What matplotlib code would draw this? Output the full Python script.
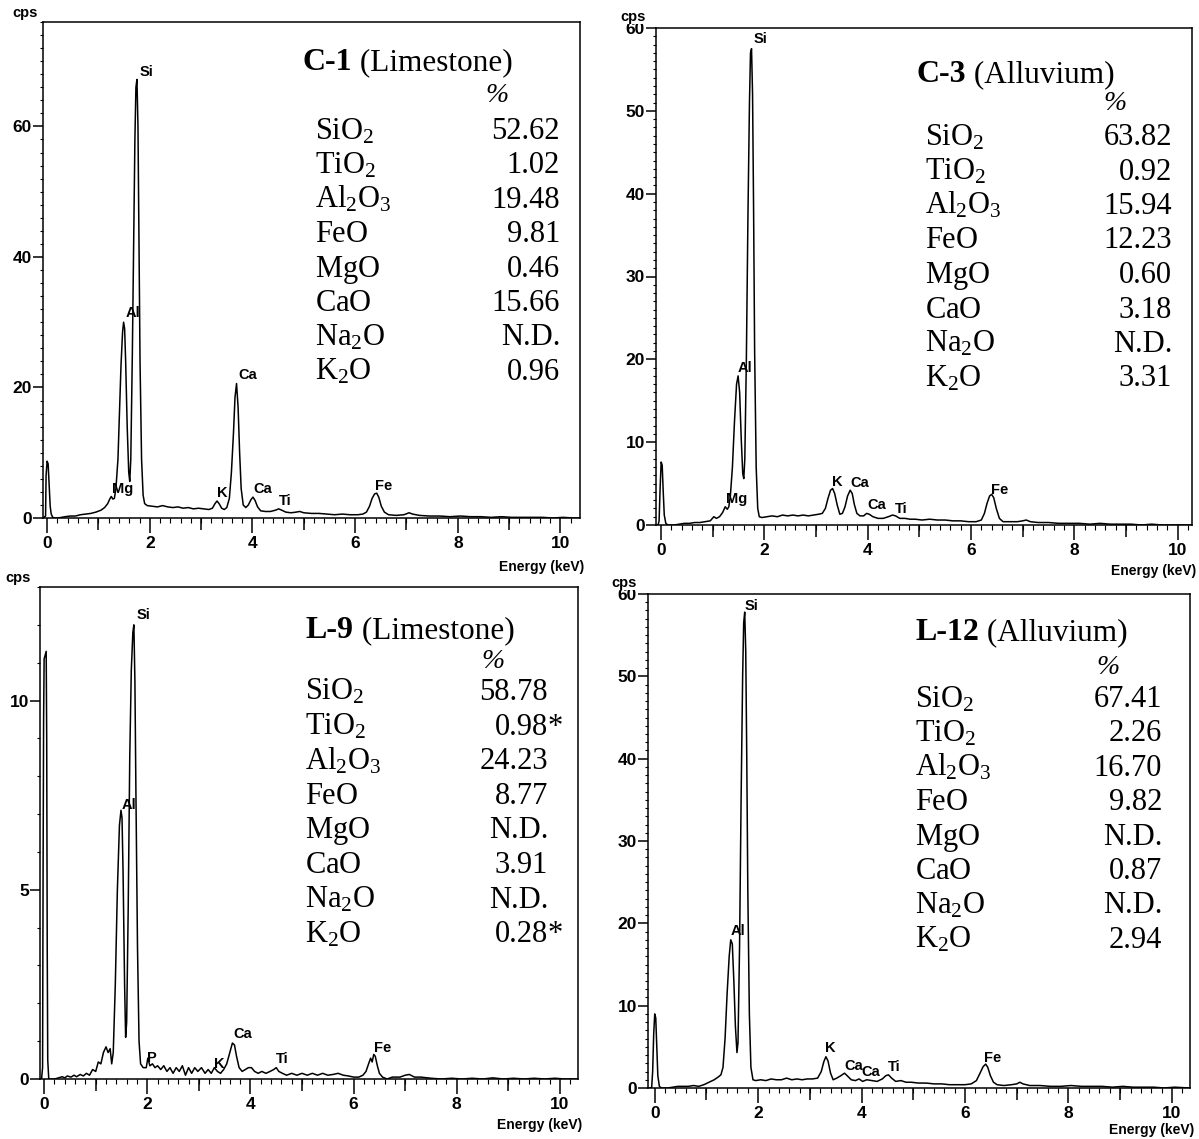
import matplotlib
matplotlib.use("Agg")
import matplotlib.pyplot as plt
from matplotlib.ticker import MultipleLocator, FixedLocator

plt.rcParams["font.family"] = "Liberation Sans"
plt.rcParams["mathtext.fontset"] = "custom"
plt.rcParams["mathtext.rm"] = "Liberation Serif"
plt.rcParams["mathtext.it"] = "Liberation Serif:italic"

W, H = 1199, 1139

# EDS spectra, (energy keV, cps)
c1_spectrum = [
    (-0.08, 0.0), (-0.03, 0.3), (-0.02, 6.5), (0.00, 8.7), (0.02, 8.3), (0.04, 5.0), (0.06, 1.8),
    (0.08, 0.6), (0.11, 0.1), (0.15, 0.0), (0.25, 0.05), (0.35, 0.2), (0.45, 0.3), (0.55, 0.3),
    (0.65, 0.5), (0.75, 0.6), (0.85, 0.7), (0.95, 0.9), (1.05, 1.2), (1.12, 1.6), (1.18, 2.2),
    (1.22, 2.9), (1.25, 3.3), (1.28, 2.9), (1.31, 3.0), (1.34, 4.5), (1.38, 9.0), (1.41, 16.0),
    (1.44, 23.5), (1.47, 28.5), (1.49, 30.0), (1.51, 29.0), (1.53, 24.0), (1.56, 14.0), (1.59, 7.0),
    (1.61, 5.6), (1.63, 9.0), (1.66, 25.0), (1.69, 45.0), (1.71, 58.0), (1.73, 66.0), (1.75, 67.2),
    (1.77, 60.0), (1.79, 42.0), (1.81, 24.0), (1.84, 9.0), (1.87, 3.5), (1.90, 2.2), (1.95, 1.9),
    (2.05, 1.8), (2.15, 1.7), (2.25, 1.9), (2.35, 1.7), (2.45, 1.6), (2.55, 1.7), (2.65, 1.5),
    (2.75, 1.6), (2.85, 1.4), (2.95, 1.5), (3.05, 1.4), (3.15, 1.3), (3.22, 1.5), (3.27, 2.2),
    (3.31, 2.6), (3.35, 2.2), (3.40, 1.5), (3.45, 1.3), (3.50, 1.6), (3.55, 3.0), (3.59, 7.0),
    (3.63, 13.0), (3.66, 18.5), (3.69, 20.6), (3.72, 17.0), (3.75, 10.0), (3.78, 4.5), (3.82, 2.0),
    (3.87, 1.6), (3.92, 2.0), (3.97, 2.8), (4.01, 3.2), (4.05, 2.7), (4.10, 1.7), (4.16, 1.1),
    (4.25, 1.0), (4.35, 1.0), (4.45, 1.2), (4.51, 1.4), (4.57, 1.2), (4.65, 0.9), (4.75, 0.8),
    (4.85, 0.9), (4.92, 1.0), (5.00, 0.8), (5.15, 0.7), (5.30, 0.7), (5.45, 0.6), (5.60, 0.5),
    (5.75, 0.6), (5.90, 0.5), (6.05, 0.5), (6.15, 0.6), (6.22, 0.9), (6.28, 1.8), (6.33, 3.0),
    (6.38, 3.7), (6.42, 3.8), (6.46, 3.2), (6.51, 1.8), (6.57, 0.9), (6.65, 0.5), (6.80, 0.4),
    (6.95, 0.5), (7.05, 0.8), (7.12, 0.6), (7.25, 0.4), (7.45, 0.3), (7.65, 0.3), (7.85, 0.2),
    (8.05, 0.3), (8.25, 0.2), (8.45, 0.2), (8.65, 0.1), (8.85, 0.2), (9.05, 0.1), (9.25, 0.1),
    (9.45, 0.1), (9.65, 0.1), (9.85, 0.0), (10.05, 0.1), (10.25, 0.0), (10.38, 0.0),
]

c3_spectrum = [
    (-0.10, 0.0), (-0.06, 0.0), (-0.04, 0.5), (-0.02, 4.5), (0.00, 7.6), (0.02, 7.2), (0.04, 4.0),
    (0.06, 1.2), (0.09, 0.2), (0.13, 0.0), (0.25, 0.0), (0.35, 0.1), (0.45, 0.2), (0.55, 0.2),
    (0.65, 0.3), (0.75, 0.3), (0.85, 0.4), (0.95, 0.5), (1.02, 1.0), (1.07, 0.8), (1.13, 1.0),
    (1.19, 1.5), (1.24, 2.2), (1.28, 1.9), (1.31, 2.2), (1.34, 3.5), (1.38, 7.0), (1.42, 12.5),
    (1.46, 17.0), (1.49, 18.0), (1.52, 16.0), (1.55, 10.5), (1.58, 6.2), (1.60, 5.6), (1.62, 8.0),
    (1.65, 20.0), (1.68, 37.0), (1.71, 51.0), (1.73, 57.0), (1.75, 57.5), (1.77, 52.0), (1.79, 38.0),
    (1.81, 21.0), (1.84, 7.0), (1.87, 2.0), (1.90, 1.0), (1.95, 0.9), (2.05, 1.0), (2.15, 1.1),
    (2.25, 1.0), (2.35, 1.2), (2.45, 1.1), (2.55, 1.2), (2.65, 1.1), (2.75, 1.2), (2.85, 1.1),
    (2.95, 1.2), (3.05, 1.3), (3.12, 1.4), (3.18, 2.0), (3.23, 3.2), (3.28, 4.2), (3.32, 4.4),
    (3.36, 3.8), (3.41, 2.4), (3.46, 1.3), (3.51, 1.4), (3.56, 2.2), (3.61, 3.5), (3.66, 4.2),
    (3.70, 3.8), (3.74, 2.5), (3.79, 1.4), (3.85, 1.1), (3.92, 1.1), (3.98, 1.4), (4.03, 1.3),
    (4.10, 1.0), (4.20, 0.8), (4.30, 0.8), (4.40, 1.0), (4.48, 1.2), (4.54, 1.1), (4.62, 0.8),
    (4.72, 0.8), (4.82, 0.7), (4.92, 0.7), (5.05, 0.6), (5.20, 0.7), (5.35, 0.6), (5.50, 0.6),
    (5.65, 0.5), (5.80, 0.5), (5.95, 0.4), (6.10, 0.4), (6.20, 0.6), (6.26, 1.4), (6.31, 2.6),
    (6.36, 3.5), (6.40, 3.7), (6.44, 3.3), (6.49, 2.0), (6.55, 0.8), (6.62, 0.4), (6.75, 0.4),
    (6.90, 0.4), (7.00, 0.5), (7.07, 0.6), (7.15, 0.4), (7.30, 0.3), (7.50, 0.3), (7.70, 0.2),
    (7.90, 0.2), (8.10, 0.2), (8.30, 0.1), (8.50, 0.2), (8.70, 0.1), (8.90, 0.1), (9.10, 0.1),
    (9.30, 0.0), (9.50, 0.1), (9.70, 0.0), (9.90, 0.0), (10.10, 0.0), (10.30, 0.0),
]

l9_spectrum = [
    (-0.08, 0.0), (-0.05, 0.0), (-0.03, 0.3), (-0.02, 5.5), (-0.01, 9.5), (0.00, 11.1), (0.02, 11.2),
    (0.04, 11.3), (0.05, 9.0), (0.06, 3.5), (0.07, 0.5), (0.09, 0.0), (0.20, 0.0), (0.28, 0.03),
    (0.35, 0.06), (0.40, 0.03), (0.45, 0.08), (0.52, 0.05), (0.58, 0.1), (0.63, 0.06), (0.70, 0.12),
    (0.76, 0.08), (0.82, 0.15), (0.88, 0.1), (0.94, 0.25), (1.00, 0.2), (1.05, 0.45), (1.10, 0.4),
    (1.15, 0.7), (1.20, 0.85), (1.24, 0.7), (1.28, 0.8), (1.31, 0.4), (1.34, 0.7), (1.38, 2.5),
    (1.42, 5.0), (1.46, 6.7), (1.49, 7.1), (1.51, 6.9), (1.53, 5.5), (1.56, 2.5), (1.58, 1.1),
    (1.60, 1.5), (1.63, 4.5), (1.66, 8.5), (1.69, 10.8), (1.72, 11.8), (1.74, 12.0), (1.76, 10.5),
    (1.78, 7.5), (1.81, 3.5), (1.84, 1.0), (1.87, 0.4), (1.92, 0.3), (1.98, 0.3), (2.01, 0.55),
    (2.05, 0.35), (2.10, 0.4), (2.15, 0.3), (2.20, 0.35), (2.26, 0.25), (2.32, 0.35), (2.38, 0.2),
    (2.44, 0.3), (2.50, 0.15), (2.56, 0.3), (2.62, 0.2), (2.68, 0.35), (2.74, 0.1), (2.80, 0.3),
    (2.86, 0.15), (2.92, 0.3), (2.98, 0.2), (3.05, 0.3), (3.12, 0.15), (3.18, 0.25), (3.24, 0.15),
    (3.30, 0.3), (3.36, 0.2), (3.42, 0.15), (3.48, 0.25), (3.54, 0.4), (3.60, 0.7), (3.65, 0.95),
    (3.69, 0.9), (3.73, 0.6), (3.78, 0.3), (3.84, 0.2), (3.90, 0.25), (3.96, 0.3), (4.02, 0.3),
    (4.08, 0.2), (4.15, 0.15), (4.22, 0.2), (4.30, 0.15), (4.38, 0.2), (4.45, 0.25), (4.50, 0.3),
    (4.55, 0.2), (4.62, 0.15), (4.70, 0.1), (4.80, 0.15), (4.90, 0.1), (5.00, 0.15), (5.10, 0.1),
    (5.20, 0.15), (5.30, 0.1), (5.40, 0.15), (5.50, 0.1), (5.60, 0.12), (5.70, 0.15), (5.80, 0.1),
    (5.90, 0.08), (6.00, 0.05), (6.10, 0.05), (6.18, 0.1), (6.24, 0.2), (6.29, 0.4), (6.33, 0.55),
    (6.36, 0.45), (6.39, 0.65), (6.42, 0.6), (6.46, 0.35), (6.50, 0.15), (6.56, 0.05), (6.65, 0.0),
    (6.75, 0.05), (6.90, 0.05), (7.00, 0.1), (7.08, 0.12), (7.18, 0.05), (7.30, 0.05), (7.50, 0.02),
    (7.70, 0.0), (7.90, 0.02), (8.10, 0.0), (8.30, 0.02), (8.50, 0.0), (8.70, 0.03), (8.90, 0.0),
    (9.10, 0.02), (9.30, 0.0), (9.50, 0.02), (9.70, 0.0), (9.90, 0.02), (10.10, 0.0), (10.35, 0.0),
]

l12_spectrum = [
    (-0.13, 0.0), (-0.06, 0.0), (-0.04, 2.0), (-0.02, 6.5), (0.00, 9.0), (0.02, 8.5), (0.04, 5.0),
    (0.06, 1.5), (0.09, 0.2), (0.13, 0.0), (0.25, 0.0), (0.35, 0.1), (0.45, 0.2), (0.55, 0.2),
    (0.65, 0.2), (0.75, 0.3), (0.85, 0.2), (0.95, 0.4), (1.05, 0.7), (1.15, 1.0), (1.22, 1.3),
    (1.28, 1.6), (1.32, 2.5), (1.36, 6.0), (1.40, 11.5), (1.44, 16.0), (1.47, 18.0), (1.50, 17.5),
    (1.53, 13.0), (1.56, 7.5), (1.59, 4.3), (1.61, 5.5), (1.64, 17.0), (1.67, 35.0), (1.70, 50.0),
    (1.72, 56.5), (1.74, 57.8), (1.76, 53.0), (1.78, 40.0), (1.80, 24.0), (1.83, 9.0), (1.86, 2.5),
    (1.90, 1.0), (1.95, 0.9), (2.05, 1.0), (2.15, 0.9), (2.25, 1.1), (2.35, 1.0), (2.45, 1.0),
    (2.55, 1.2), (2.65, 1.0), (2.75, 1.1), (2.85, 1.0), (2.95, 1.1), (3.05, 1.1), (3.15, 1.2),
    (3.22, 2.0), (3.27, 3.2), (3.31, 3.8), (3.35, 3.3), (3.40, 1.8), (3.45, 1.0), (3.52, 1.2),
    (3.60, 1.5), (3.67, 1.8), (3.72, 1.5), (3.80, 1.0), (3.88, 0.9), (3.95, 1.1), (4.02, 0.8),
    (4.10, 1.0), (4.20, 0.9), (4.30, 0.8), (4.40, 1.1), (4.47, 1.5), (4.52, 1.6), (4.58, 1.2),
    (4.66, 0.8), (4.76, 0.9), (4.86, 0.7), (4.96, 0.7), (5.10, 0.6), (5.25, 0.6), (5.40, 0.5),
    (5.55, 0.5), (5.70, 0.4), (5.85, 0.4), (6.00, 0.4), (6.12, 0.5), (6.22, 0.9), (6.29, 1.8),
    (6.35, 2.6), (6.40, 2.9), (6.44, 2.5), (6.49, 1.5), (6.55, 0.7), (6.62, 0.4), (6.75, 0.3),
    (6.90, 0.4), (7.00, 0.5), (7.06, 0.7), (7.12, 0.5), (7.25, 0.3), (7.45, 0.3), (7.65, 0.2),
    (7.85, 0.2), (8.05, 0.3), (8.25, 0.2), (8.45, 0.2), (8.65, 0.2), (8.85, 0.1), (9.05, 0.2),
    (9.25, 0.1), (9.45, 0.1), (9.65, 0.1), (9.85, 0.0), (10.05, 0.1), (10.35, 0.0),
]

# peak identifications: (element, keV at left of label, cps at label centre)
c1_peaks = [("Si", 1.80, 68.4), ("Al", 1.52, 31.4), ("Mg", 1.27, 4.4), ("K", 3.30, 3.8),
            ("Ca", 3.72, 21.9), ("Ca", 4.02, 4.5), ("Ti", 4.51, 2.6), ("Fe", 6.38, 4.9)]
c3_peaks = [("Si", 1.79, 58.7), ("Al", 1.49, 19.0), ("Mg", 1.25, 3.1), ("K", 3.30, 5.2),
            ("Ca", 3.67, 5.1), ("Ca", 4.00, 2.4), ("Ti", 4.52, 1.9), ("Fe", 6.38, 4.2)]
l9_peaks = [("Si", 1.79, 12.27), ("Al", 1.51, 7.23), ("P", 2.00, 0.55), ("K", 3.30, 0.40),
            ("Ca", 3.67, 1.19), ("Ti", 4.50, 0.53), ("Fe", 6.39, 0.81)]
l12_peaks = [("Si", 1.73, 58.5), ("Al", 1.47, 19.1), ("K", 3.29, 4.8), ("Ca", 3.67, 2.7),
             ("Ca", 4.00, 1.9), ("Ti", 4.50, 2.5), ("Fe", 6.37, 3.7)]

# bulk chemistry (wt %)
oxides = [r"$\mathrm{SiO_2}$", r"$\mathrm{TiO_2}$", r"$\mathrm{Al_2O_3}$", r"$\mathrm{FeO}$",
          r"$\mathrm{MgO}$", r"$\mathrm{CaO}$", r"$\mathrm{Na_2O}$", r"$\mathrm{K_2O}$"]
c1_pct = ["52.62", "1.02", "19.48", "9.81", "0.46", "15.66", "N.D.", "0.96"]
c3_pct = ["63.82", "0.92", "15.94", "12.23", "0.60", "3.18", "N.D.", "3.31"]
l9_pct = ["58.78", "0.98*", "24.23", "8.77", "N.D.", "3.91", "N.D.", "0.28*"]
l12_pct = ["67.41", "2.26", "16.70", "9.82", "N.D.", "0.87", "N.D.", "2.94"]


def fx(x):
    return x / W


def fy(y):
    return 1 - y / H


def spectrum_axes(fig, box, xlim, ymax, ymajor, yminor, spectrum, peaks, energy_y):
    left, top, right, bottom = box
    ax = fig.add_axes([fx(left), fy(bottom), (right - left) / W, (bottom - top) / H])
    kev = [p[0] for p in spectrum]
    cps = [p[1] for p in spectrum]
    ax.plot(kev, cps, color="black", lw=1.1, solid_joinstyle="round")
    ax.set_xlim(xlim)
    ax.set_ylim(0, ymax)

    ax.xaxis.set_major_locator(MultipleLocator(2))
    ax.xaxis.set_minor_locator(MultipleLocator(0.2))
    ax.yaxis.set_major_locator(FixedLocator(ymajor))
    ax.yaxis.set_minor_locator(MultipleLocator(yminor))
    ax.tick_params(axis="x", which="major", direction="out", length=11, width=1.1, pad=2,
                   labelsize=12.5)
    ax.tick_params(axis="x", which="minor", direction="out", length=3.5, width=0.8)
    ax.tick_params(axis="y", which="major", direction="out", length=7, width=1.1, pad=1,
                   labelsize=12.5)
    ax.tick_params(axis="y", which="minor", direction="out", length=2.5, width=0.8)
    for lab in ax.get_xticklabels() + ax.get_yticklabels():
        lab.set_fontweight("bold")
    for sp in ax.spines.values():
        sp.set_linewidth(1.1)

    # odd keV marks are a bit shorter than the labelled ones
    odd = ax.secondary_xaxis("bottom")
    odd.set_xticks([1, 3, 5, 7, 9])
    odd.tick_params(length=8.5, width=1.1, labelbottom=False)
    odd.spines["bottom"].set_visible(False)

    for name, x, y in peaks:
        ax.text(x, y, name, fontsize=10.5, fontweight="bold", ha="left", va="center")

    fig.text(fx(right + 4), fy(energy_y), "Energy (keV)", fontsize=10,
             fontweight="bold", ha="right", va="center")
    return ax


def composition(fig, ax, sample, rock, title_xy, pct_xy, name_x, value_x, row0, step, values):
    t = fig.text(fx(title_xy[0]), fy(title_xy[1]), sample, fontsize=23, fontweight="bold",
                 family="Liberation Serif", va="baseline")
    ax.annotate(" (" + rock + ")", xy=(1, 0), xycoords=t, fontsize=22.5,
                family="Liberation Serif", va="bottom", ha="left", annotation_clip=False)
    fig.text(fx(pct_xy[0]), fy(pct_xy[1]), "%", fontsize=20, style="italic",
             family="Liberation Serif", ha="center", va="center")
    for i in range(len(oxides)):
        yb = fy(row0 + i * step)
        fig.text(fx(name_x), yb, oxides[i], fontsize=22, va="baseline", ha="left")
        v = values[i]
        if v.endswith("*"):
            fig.text(fx(value_x), yb, v[:-1], fontsize=22, family="Liberation Serif",
                     va="baseline", ha="right")
            fig.text(fx(value_x), yb, "*", fontsize=22, family="Liberation Serif",
                     va="baseline", ha="left")
        else:
            fig.text(fx(value_x), yb, v, fontsize=22, family="Liberation Serif",
                     va="baseline", ha="right")


def cps_label(fig, x, y):
    fig.text(fx(x), fy(y), "cps", fontsize=10.5, fontweight="bold", ha="center", va="center",
             zorder=10, bbox=dict(facecolor="white", edgecolor="none", pad=0.3))


def main():
    fig = plt.figure(figsize=(W / 100, H / 100), dpi=100)

    ax1 = spectrum_axes(fig, (43, 22, 580, 518), (-0.08, 10.38), 76, [0, 20, 40, 60], 2,
                        c1_spectrum, c1_peaks, 567)
    ax2 = spectrum_axes(fig, (656, 28, 1192, 525), (-0.1, 10.28), 60,
                        [0, 10, 20, 30, 40, 50, 60], 1, c3_spectrum, c3_peaks, 571)
    ax3 = spectrum_axes(fig, (40, 587, 578, 1079), (-0.08, 10.35), 13, [0, 5, 10], 1,
                        l9_spectrum, l9_peaks, 1125)
    ax4 = spectrum_axes(fig, (648, 594, 1190, 1088), (-0.13, 10.35), 60,
                        [0, 10, 20, 30, 40, 50, 60], 1, l12_spectrum, l12_peaks, 1130)

    cps_label(fig, 25, 13)
    cps_label(fig, 633, 17)
    cps_label(fig, 18, 578)
    cps_label(fig, 624, 583)

    composition(fig, ax1, "C-1", "Limestone", (303, 70), (497, 96), 315, 560, 139, 34.4, c1_pct)
    composition(fig, ax2, "C-3", "Alluvium", (916, 82), (1115, 103), 925, 1172, 145, 34.5, c3_pct)
    composition(fig, ax3, "L-9", "Limestone", (306, 638), (493, 662), 305, 548, 700, 34.6, l9_pct)
    composition(fig, ax4, "L-12", "Alluvium", (915, 640), (1108, 667), 915, 1162, 707, 34.4, l12_pct)

    fig.savefig("out.png", dpi=100)
    plt.close(fig)


if __name__ == "__main__":
    main()
